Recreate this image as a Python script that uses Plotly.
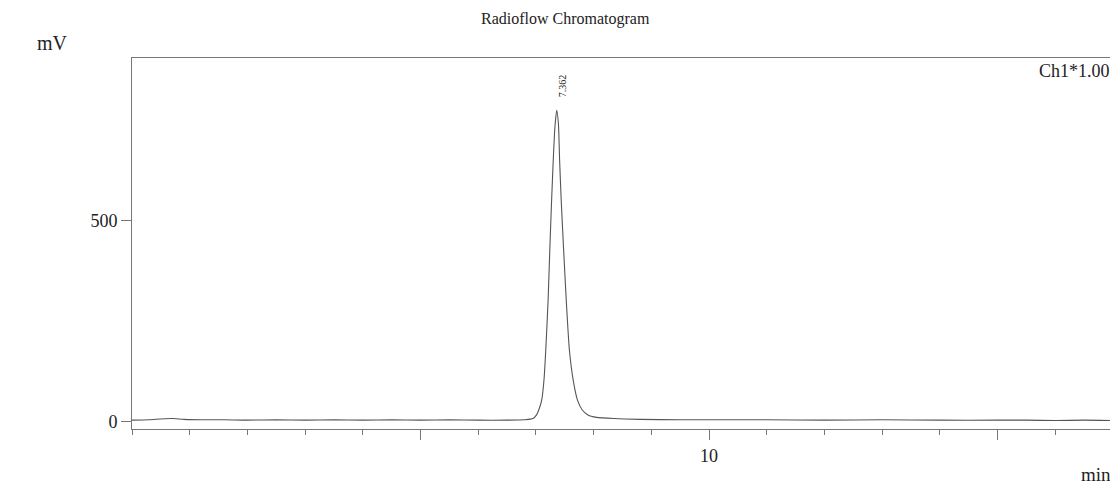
import plotly.graph_objects as go

# Retention time (min) and detector signal (mV)
time_min = [0.0, 0.3, 0.5, 0.7, 0.9, 1.2, 1.6, 2.0, 2.5, 3.0, 3.5, 4.0, 4.5, 5.0,
            5.5, 6.0, 6.5, 6.8, 6.95, 7.01, 7.05, 7.10, 7.14, 7.17, 7.21, 7.24,
            7.27, 7.30, 7.33, 7.36, 7.39, 7.41, 7.44, 7.48, 7.53, 7.58, 7.65,
            7.72, 7.80, 7.90, 8.05, 8.35, 8.8, 9.5, 10.0, 11.0, 12.0, 13.0,
            14.0, 15.0, 15.5, 16.0, 16.5, 17.0]
signal_mv = [4, 5, 7, 8, 6, 5, 5, 4, 5, 4, 5, 4, 5, 4,
             5, 4, 4, 5, 8, 17, 30, 54, 105, 178, 300, 427,
             545, 651, 735, 775, 740, 651, 545, 427, 290, 178, 100,
             54, 30, 17, 11, 8, 6, 5, 5, 5, 4, 5,
             4, 4, 4, 3, 4, 3]

peak_rt = 7.362
peak_label = "7.362"
x_tick_vals = [5, 10, 15]
x_tick_text = ["", "10", ""]
y_tick_vals = [0, 500]
y_tick_text = ["0", "500"]

font_family = "Liberation Serif, Times New Roman, serif"
ink = "#222222"
frame = "#777777"

fig = go.Figure()
fig.add_trace(go.Scatter(
    x=time_min, y=signal_mv, mode="lines",
    line=dict(color="#555555", width=1.1, shape="spline", smoothing=0.6),
    hoverinfo="x+y", showlegend=False,
))

fig.add_annotation(
    x=peak_rt + 0.09, y=835, xref="x", yref="y",
    text=peak_label, textangle=-90, showarrow=False,
    font=dict(family=font_family, size=10, color=ink),
    xanchor="center", yanchor="middle",
)
fig.add_annotation(
    x=1, y=1, xref="paper", yref="paper", xanchor="right", yanchor="top",
    text="Ch1*1.00", showarrow=False,
    font=dict(family=font_family, size=18, color=ink), xshift=-1, yshift=-1,
)
fig.add_annotation(
    x=0, y=1, xref="paper", yref="paper", xanchor="right", yanchor="bottom",
    text="mV", showarrow=False, xshift=-62, yshift=2,
    font=dict(family=font_family, size=20, color=ink),
)
fig.add_annotation(
    x=1, y=0, xref="paper", yref="paper", xanchor="right", yanchor="bottom",
    text="min", showarrow=False, yshift=-58,
    font=dict(family=font_family, size=19, color=ink),
)
fig.add_annotation(
    x=0.442, y=1, xref="paper", yref="paper", xanchor="center", yanchor="bottom",
    text="Radioflow Chromatogram", showarrow=False, yshift=28,
    font=dict(family=font_family, size=16, color=ink),
)

fig.update_layout(
    width=1110, height=480,
    margin=dict(l=124, r=5, t=50, b=59),
    paper_bgcolor="white", plot_bgcolor="white",
    font=dict(family=font_family, color=ink),
)
fig.update_xaxes(
    range=[0, 17], showgrid=False, zeroline=False,
    showline=True, linecolor=frame, linewidth=1, mirror=True,
    tickvals=x_tick_vals, ticktext=x_tick_text,
    ticks="outside", ticklen=10, tickcolor=frame, tickwidth=1,
    tickfont=dict(family=font_family, size=18, color=ink),
    minor=dict(dtick=1, tick0=0, ticks="outside", ticklen=5,
               tickcolor=frame, tickwidth=1, showgrid=False),
)
fig.update_yaxes(
    range=[-18, 905], showgrid=False, zeroline=False,
    showline=True, linecolor=frame, linewidth=1, mirror=True,
    tickvals=y_tick_vals, ticktext=y_tick_text,
    ticks="outside", ticklen=10, tickcolor=frame, tickwidth=1,
    tickfont=dict(family=font_family, size=18, color=ink),
)

fig.write_html("out.html")
